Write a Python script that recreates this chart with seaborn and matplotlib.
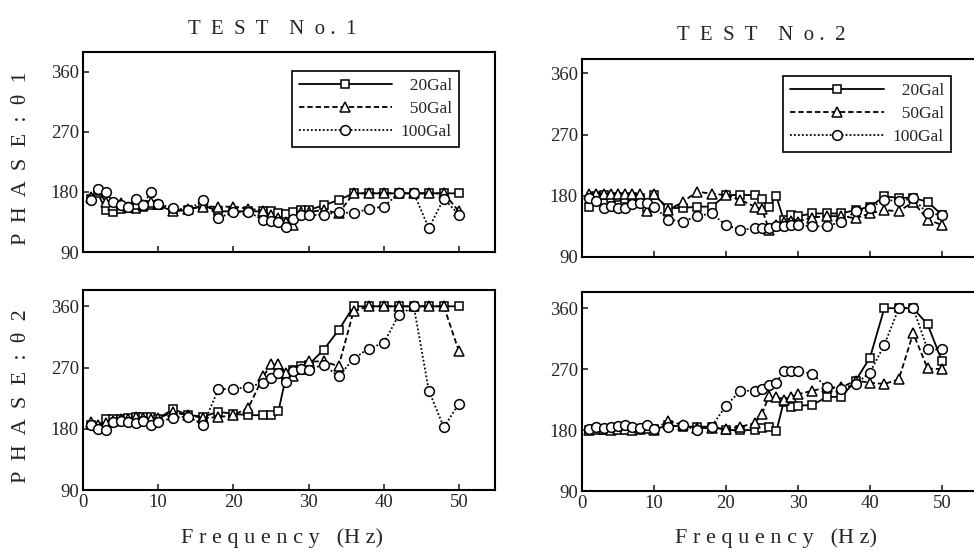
import matplotlib
matplotlib.use('Agg')
import matplotlib.pyplot as plt
import seaborn as sns
import pandas as pd

# ── data ─────────────────────────────────────────────────────────────────────
FREQ = [1, 2, 3, 4, 5, 6, 7, 8, 9, 10, 12, 14, 16, 18, 20, 22, 24,
        25, 26, 27, 28, 29, 30, 32, 34, 36, 38, 40, 42, 44, 46, 48, 50]
LOADS = ['20Gal', '50Gal', '100Gal']
YTICKS = [90, 180, 270, 360]
XTICKS = [0, 10, 20, 30, 40, 50]

# TEST No.1, phase θ1
T1_TH1_20 = [170, 178, 153, 150, 155, 157, 155, 158, 160, 160, 151, 153, 160, 151, 151, 151, 151,
             151, 148, 147, 150, 153, 153, 160, 168, 178, 178, 178, 178, 178, 178, 178, 178]
T1_TH1_50 = [172, 183, 165, 160, 163, 158, 162, 160, 165, 162, 152, 155, 158, 158, 158, 155, 152,
             145, 141, 135, 130, 150, 150, 153, 148, 178, 178, 178, 178, 178, 178, 178, 151]
T1_TH1_100 = [168, 185, 180, 165, 160, 158, 170, 160, 180, 162, 156, 153, 168, 141, 150, 150, 138,
              137, 135, 128, 140, 145, 145, 146, 150, 148, 155, 158, 178, 178, 126, 170, 146]
# TEST No.1, phase θ2
T1_TH2_20 = [185, 182, 195, 195, 195, 196, 197, 197, 197, 195, 209, 200, 198, 205, 202, 200, 200,
             200, 206, 257, 266, 272, 274, 296, 325, 360, 360, 360, 360, 360, 360, 360, 360]
T1_TH2_50 = [190, 185, 188, 192, 195, 195, 197, 196, 195, 196, 204, 200, 196, 197, 200, 211, 257,
             275, 275, 262, 257, 268, 279, 279, 272, 353, 360, 360, 360, 360, 360, 360, 294]
T1_TH2_100 = [185, 180, 178, 190, 192, 190, 188, 192, 185, 190, 196, 198, 186, 238, 239, 241, 248,
              255, 262, 249, 265, 268, 267, 274, 257, 283, 298, 306, 347, 360, 236, 182, 217]
# TEST No.2, phase θ1
T2_TH1_20 = [163, 180, 181, 176, 178, 175, 178, 176, 162, 181, 162, 162, 164, 164, 181, 181, 181,
             175, 164, 179, 145, 152, 150, 154, 154, 154, 159, 164, 179, 177, 177, 171, 152]
T2_TH1_50 = [183, 183, 183, 183, 182, 183, 183, 183, 157, 183, 159, 171, 186, 183, 181, 174, 164,
             160, 130, 137, 142, 143, 142, 148, 150, 150, 147, 154, 159, 157, 171, 145, 137]
T2_TH1_100 = [176, 172, 162, 165, 162, 162, 168, 170, 170, 164, 145, 142, 150, 154, 137, 130, 132,
              133, 132, 135, 135, 137, 137, 135, 135, 142, 157, 162, 174, 172, 176, 154, 152]
# TEST No.2, phase θ2
T2_TH2_20 = [180, 181, 180, 182, 181, 183, 180, 181, 183, 181, 187, 185, 185, 185, 180, 180, 180,
             183, 185, 178, 221, 214, 216, 217, 229, 229, 253, 287, 360, 360, 360, 336, 282]
T2_TH2_50 = [180, 182, 181, 180, 182, 181, 180, 181, 183, 180, 194, 187, 183, 183, 182, 185, 190,
             204, 231, 229, 224, 229, 233, 238, 243, 243, 253, 250, 248, 255, 323, 271, 270]
T2_TH2_100 = [182, 184, 183, 185, 186, 188, 184, 183, 187, 182, 185, 187, 180, 185, 216, 238, 238,
              240, 246, 250, 267, 267, 267, 263, 243, 241, 248, 265, 306, 360, 360, 299, 299]

# ── style ────────────────────────────────────────────────────────────────────
sns.set_style('ticks')
plt.rcParams['font.family'] = ['Liberation Serif', 'DejaVu Serif']
plt.rcParams['axes.linewidth'] = 1.5
plt.rcParams['axes.edgecolor'] = 'black'

MARKERS = {'20Gal': 's', '50Gal': '^', '100Gal': 'o'}
DASHES = {'20Gal': '', '50Gal': (3, 1.6), '100Gal': (1, 1.2)}
MSIZE = {'s': 5.8, '^': 6.6, 'o': 7}

fig = plt.figure(figsize=(9.74, 5.53), dpi=100)
fig.patch.set_facecolor('white')


def panel(rect, s20, s50, s100, xmax, ymax, show_x, legend_anchor=None):
    ax = fig.add_axes(rect)
    df = pd.DataFrame({
        'Frequency': FREQ * 3,
        'Phase': s20 + s50 + s100,
        'Load': [l for l in LOADS for _ in FREQ],
    })
    sns.lineplot(data=df, x='Frequency', y='Phase', style='Load', style_order=LOADS,
                 markers=MARKERS, dashes=DASHES, color='black', linewidth=1.3,
                 markerfacecolor='white', markeredgecolor='black', markeredgewidth=1.1,
                 estimator=None, legend=False, ax=ax)
    for ln in ax.lines:
        ln.set_markersize(MSIZE.get(ln.get_marker(), 6.5))
    ax.set_xlim(0, xmax)
    ax.set_ylim(90, ymax)
    ax.set_xticks(XTICKS)
    ax.set_yticks(YTICKS)
    ax.tick_params(direction='in', length=4, width=1.2, labelsize=13.5, pad=3)
    if not show_x:
        ax.set_xticklabels([])
    ax.set_xlabel('')
    ax.set_ylabel('')
    for s in ax.spines.values():
        s.set_visible(True)
        s.set_linewidth(1.5)
    if legend_anchor is not None:
        leg = ax.legend(handles=ax.lines[:3], labels=['  20Gal', '  50Gal', '100Gal'],
                        loc='upper right', bbox_to_anchor=legend_anchor, handlelength=5.4,
                        numpoints=1, fontsize=12.5, frameon=True, fancybox=False,
                        edgecolor='black', framealpha=1, labelspacing=0.4,
                        borderpad=0.4, handletextpad=0.5, borderaxespad=0)
        leg.get_frame().set_linewidth(1.2)
    return ax


panel([0.0852, 0.5443, 0.423, 0.3617], T1_TH1_20, T1_TH1_50, T1_TH1_100, 54.8, 390, False,
      legend_anchor=(0.913, 0.905))
panel([0.0852, 0.1139, 0.423, 0.3617], T1_TH2_20, T1_TH2_50, T1_TH2_100, 54.8, 384, True)
panel([0.5975, 0.5353, 0.4066, 0.358], T2_TH1_20, T2_TH1_50, T2_TH1_100, 55, 381, False,
      legend_anchor=(0.932, 0.914))
panel([0.5975, 0.1121, 0.4066, 0.36], T2_TH2_20, T2_TH2_50, T2_TH2_100, 55, 384, True)

# titles / axis captions
fig.text(272 / 974, 1 - 30 / 553, 'T  E  S  T    N  o .  1', ha='center', va='center',
         fontsize=15)
fig.text(761 / 974, 1 - 36 / 553, 'T  E  S  T    N  o .  2', ha='center', va='center',
         fontsize=15)
fig.text(22 / 974, 1 - 158 / 553, 'P  H  A  S  E  :  θ  1', ha='center', va='center',
         rotation=90, fontsize=16)
fig.text(22 / 974, 1 - 396 / 553, 'P  H  A  S  E  :  θ  2', ha='center', va='center',
         rotation=90, fontsize=16)
fig.text(282 / 974, 1 - 538 / 553, 'F r e q u e n c y   (H z)', ha='center', va='center',
         fontsize=16)
fig.text(776 / 974, 1 - 538 / 553, 'F r e q u e n c y   (H z)', ha='center', va='center',
         fontsize=16)

fig.savefig('out.png', dpi=100, facecolor='white')
plt.close(fig)
